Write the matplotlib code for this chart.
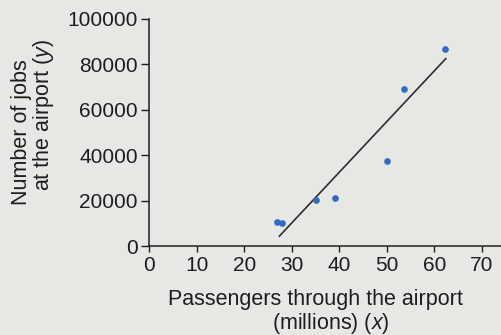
import matplotlib
matplotlib.use("Agg")
import matplotlib.pyplot as plt

plt.rcParams["font.family"] = ["Liberation Sans", "DejaVu Sans"]
plt.rcParams["mathtext.fontset"] = "custom"
plt.rcParams["mathtext.rm"] = "Liberation Sans"
plt.rcParams["mathtext.it"] = "Liberation Sans:italic"

# Passengers (millions) and jobs at each airport
passengers = [27.0, 28.0, 35.0, 39.2, 50.0, 53.5, 62.3]
jobs = [10500, 10000, 20200, 21200, 37300, 69200, 86600]

# Line of best fit, drawn between its two end points
fit_x = [27.3, 62.5]
fit_y = [4100, 82800]

x_ticks = [0, 10, 20, 30, 40, 50, 60, 70]
y_ticks = [0, 20000, 40000, 60000, 80000, 100000]

bg = "#e7e8e3"
ink = "#1e1e1e"

fig = plt.figure(figsize=(5.02, 3.35), dpi=100, facecolor=bg)
ax = fig.add_axes([149 / 502, 89 / 335, 1 - 149 / 502, (316 - 89) / 335])
ax.set_facecolor(bg)

ax.plot(fit_x, fit_y, color="#2e2e2e", lw=1.2, solid_capstyle="butt", zorder=2)
ax.plot(passengers, jobs, "o", color="#2f6cc6", ms=4.8, mec="none", zorder=3)

ax.set_xlim(0, 74.2)
ax.set_ylim(0, 100000)
ax.set_xticks(x_ticks)
ax.set_yticks(y_ticks)
ax.set_xticklabels([str(v) for v in x_ticks])
ax.set_yticklabels([str(v) for v in y_ticks])

for s in ("top", "right"):
    ax.spines[s].set_visible(False)
for s in ("left", "bottom"):
    ax.spines[s].set_color(ink)
    ax.spines[s].set_linewidth(1.1)

ax.tick_params(axis="x", direction="out", length=4, width=1.0, color=ink,
               labelsize=15, labelcolor=ink, pad=3.5)
ax.tick_params(axis="y", direction="out", length=5.5, width=1.0, color=ink,
               labelsize=15, labelcolor=ink, pad=2.5)

# axis titles
fig.text(315 / 502, 1 - 299 / 335, "Passengers through the airport",
         ha="center", va="center", fontsize=15.5, color=ink)
fig.text(331 / 502, 1 - 323 / 335, r"(millions) $\mathit{(x)}$",
         ha="center", va="center", fontsize=15.5, color=ink)
fig.text(22 / 502, 1 - 132 / 335, "Number of jobs", rotation=90,
         ha="center", va="center", fontsize=15.5, color=ink)
fig.text(44 / 502, 1 - 115 / 335, r"at the airport $\mathit{(y)}$", rotation=90,
         ha="center", va="center", fontsize=15.5, color=ink)

fig.savefig("out.png", dpi=100, facecolor=bg)
